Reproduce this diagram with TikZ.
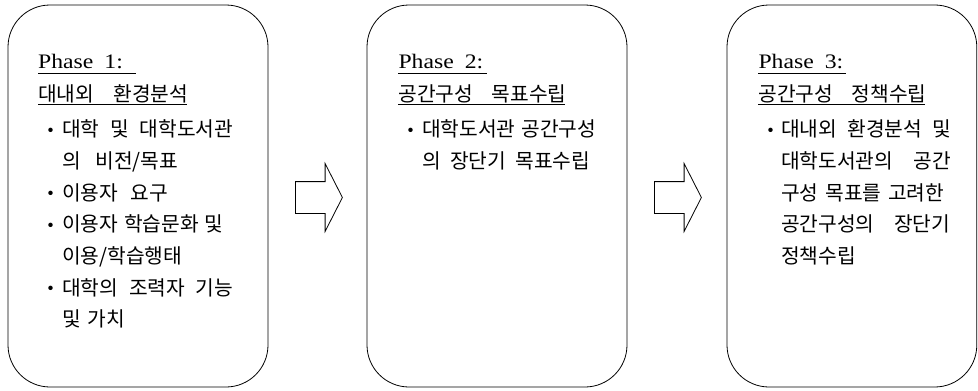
\documentclass[tikz,border=0pt]{standalone}
\usepackage{fontspec}
\setmainfont{Liberation Serif}
\newfontfamily\kr{Noto Sans CJK KR}
\newfontfamily\lat[FakeStretch=1.15]{Liberation Serif}
\usetikzlibrary{shapes.arrows}
\newcommand\jl[2]{\hbox to #1pt{#2}}
\tikzset{
  stage/.style={draw=black, line width=0.8pt, rounded corners=42pt, minimum width=260pt, minimum height=382pt, inner sep=0pt},
  blockarrow/.style={single arrow, draw=black, line width=0.8pt, inner xsep=0pt, inner ysep=15.5pt, minimum height=47pt, single arrow head extend=18pt, single arrow tip angle=126, anchor=tail},
  ttl/.style={anchor=base west, inner sep=0pt, font=\lat\fontsize{20.6}{22}\selectfont},
  kl/.style={anchor=base west, inner sep=0pt, font=\kr\fontsize{20.3}{24}\selectfont},
  bul/.style={anchor=base, inner sep=0pt, font=\fontsize{18.5}{20}\selectfont},
  uline/.style={line width=0.8pt}
}
\begin{document}
\begin{tikzpicture}[x=1pt,y=-1pt]
\useasboundingbox (0,0) rectangle (978,391);
% stage boxes
\node[stage] (b1) at (138,196) {};
\node[stage] (b2) at (497,196) {};
\node[stage, minimum width=249.8pt] (b3) at (851.9,196) {};
% block arrows
\node[blockarrow] (a1) at (295,197.5) {};
\node[blockarrow] (a2) at (654,197.5) {};
% ---------- Phase 1 ----------
\node[ttl] (p1) at (38,68.5) {Phase\hspace{11pt}1:};
\draw[uline] (38,73.5) -- (136,73.5);
\node[kl] (h1) at (38,101.6) {\jl{150}{대내외\hfill 환경분석}};
\draw[uline] (38,104) -- (187,104);
\node[bul] (u11) at (50.7,136.2) {\textbullet};
\node[kl] (t11) at (62,136.8) {\jl{171}{대학\hfill 및\hfill 대학도서관}};
\node[kl] (t12) at (62,168.5) {\jl{116}{의\hfill 비전/목표}};
\node[bul] (u12) at (50.7,199.5) {\textbullet};
\node[kl] (t13) at (62,200.1) {\jl{106}{이용자\hfill 요구}};
\node[bul] (u13) at (50.7,231.2) {\textbullet};
\node[kl] (t14) at (62,231.8) {\jl{161}{이용자\hfill 학습문화\hfill 및}};
\node[kl] (t15) at (62,263.5) {이용/학습행태};
\node[bul] (u14) at (50.7,294.5) {\textbullet};
\node[kl] (t16) at (62,295.1) {\jl{171}{대학의\hfill 조력자\hfill 기능}};
\node[kl] (t17) at (62,326.8) {\jl{63}{및\hfill 가치}};
% ---------- Phase 2 ----------
\node[ttl] (p2) at (398.3,68.5) {Phase\hspace{11pt}2:};
\draw[uline] (398.3,73.5) -- (487,73.5);
\node[kl] (h2) at (398.3,101.6) {\jl{168}{공간구성\hfill 목표수립}};
\draw[uline] (398.3,104) -- (565,104);
\node[bul] (u21) at (410.7,136.2) {\textbullet};
\node[kl] (t21) at (422,136.8) {\jl{174}{대학도서관\hfill 공간구성}};
\node[kl] (t22) at (422,168.5) {\jl{168}{의\hfill 장단기\hfill 목표수립}};
% ---------- Phase 3 ----------
\node[ttl] (p3) at (758.3,68.5) {Phase\hspace{11pt}3:};
\draw[uline] (758.3,73.5) -- (846,73.5);
\node[kl] (h3) at (758.3,101.6) {\jl{168}{공간구성\hfill 정책수립}};
\draw[uline] (758.3,104) -- (925,104);
\node[bul] (u31) at (770.7,136.2) {\textbullet};
\node[kl] (t31) at (781,136.8) {\jl{170}{대내외\hfill 환경분석\hfill 및}};
\node[kl] (t32) at (781,168.5) {\jl{170}{대학도서관의\hfill 공간}};
\node[kl] (t33) at (781,200.1) {\jl{163}{구성\hfill 목표를\hfill 고려한}};
\node[kl] (t34) at (781,231.8) {\jl{169}{공간구성의\hfill 장단기}};
\node[kl] (t35) at (781,263.5) {정책수립};
\end{tikzpicture}
\end{document}
